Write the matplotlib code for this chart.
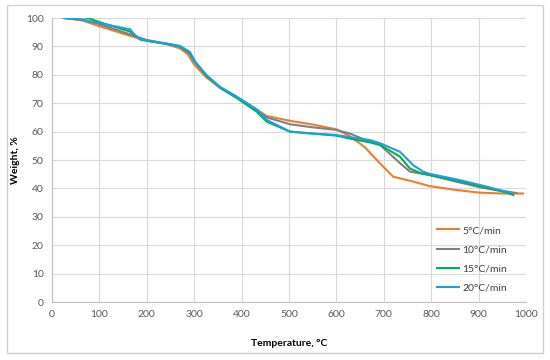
import matplotlib
matplotlib.use("Agg")
import matplotlib.pyplot as plt
from matplotlib.patches import Rectangle

plt.rcParams['font.family'] = ['Lato', 'DejaVu Sans']

# heating rate 5 C/min
t5 = [25, 65, 100, 165, 200, 242, 270, 285, 300, 326, 354, 390, 432, 453, 502,
      550, 600, 630, 660, 692, 720, 760, 797, 850, 903, 950, 994]
w5 = [100, 99.1, 97.1, 93.7, 92.0, 90.8, 89.3, 87.5, 83.6, 79.0, 75.6, 72.2, 67.8,
      65.5, 63.8, 62.5, 60.8, 58.2, 54.5, 48.8, 44.1, 42.5, 40.8, 39.5, 38.5, 38.2, 38.2]

# 10 C/min
t10 = [25, 65, 97, 165, 200, 242, 270, 290, 302, 326, 354, 390, 432, 453, 502,
       550, 600, 630, 671, 692, 734, 755, 797, 850, 903, 950, 980]
w10 = [100, 99.3, 98, 94.2, 92.2, 90.9, 89.9, 87.5, 84.3, 79.6, 75.6, 72.0, 67.4,
       65.0, 62.6, 61.5, 60.6, 59.2, 56.4, 55.3, 48.9, 45.9, 44.7, 42.5, 40.4, 39.0, 38.4]

# 15 C/min
t15 = [25, 66, 80, 97, 165, 186, 200, 242, 270, 290, 302, 326, 354, 390, 432, 453,
       502, 550, 600, 630, 671, 692, 734, 755, 776, 797, 850, 903, 950, 973]
w15 = [100, 100.3, 99.8, 98.7, 95.2, 92.4, 92.0, 90.9, 90.0, 87.8, 84.5, 79.6, 75.5,
       71.8, 67.0, 63.5, 60.0, 59.3, 58.6, 57.5, 56.2, 55.3, 51.2, 47.0, 45.5, 44.7,
       42.8, 40.8, 39.0, 37.7]

# 20 C/min
t20 = [25, 65, 100, 165, 172, 185, 200, 242, 270, 291, 302, 326, 354, 390, 432, 453,
       502, 550, 600, 630, 671, 692, 734, 762, 783, 797, 850, 903, 950, 966]
w20 = [100, 99.4, 98.2, 96.0, 94.5, 92.6, 92.2, 91.0, 90.2, 88.0, 84.6, 79.9, 75.8,
       72.3, 67.8, 64.1, 60.0, 59.3, 58.8, 58.0, 57.0, 55.9, 52.9, 48.2, 45.9, 45.1,
       43.3, 41.2, 39.2, 38.7]

labels = ['5°C/min', '10°C/min', '15°C/min', '20°C/min']
colors = ['#ED7D31', '#808080', '#00B050', '#1E9FE0']

fig = plt.figure(figsize=(5.5, 3.6), dpi=100)
# outer chart border
fig.patches.append(Rectangle((7 / 550, 7 / 360), 536 / 550, 348 / 360, transform=fig.transFigure,
                             fill=False, edgecolor='#d0d0d0', lw=1.0))
ax = fig.add_axes([52 / 550, 58 / 360, 474 / 550, 284 / 360])

for t, w, lab, c in zip([t5, t10, t15, t20], [w5, w10, w15, w20], labels, colors):
    ax.plot(t, w, color=c, lw=1.5, label=lab, solid_joinstyle='round')

ax.set_xlim(0, 1000)
ax.set_ylim(0, 100)
ax.set_xticks(range(0, 1001, 100))
ax.set_yticks(range(0, 101, 10))
ax.grid(True, color='#d9d9d9', lw=0.8)
ax.set_axisbelow(True)
for s in ['top', 'right']:
    ax.spines[s].set_visible(False)
for s in ['left', 'bottom']:
    ax.spines[s].set_color('#bfbfbf')
    ax.spines[s].set_linewidth(0.8)
ax.tick_params(length=0, labelsize=7.5, labelcolor='#595959', pad=6)
ax.set_xlabel('Temperature, °C', fontsize=7.5, fontweight='bold', labelpad=14)
ax.set_ylabel('Weight, %', fontsize=7.5, fontweight='bold', labelpad=4)

ax.legend(loc='lower right', bbox_to_anchor=(0.98, 0.0), frameon=False, fontsize=7.5,
          labelcolor='#404040', handlelength=2.1, handletextpad=0.3, labelspacing=0.95)

fig.savefig('out.png', dpi=100)
